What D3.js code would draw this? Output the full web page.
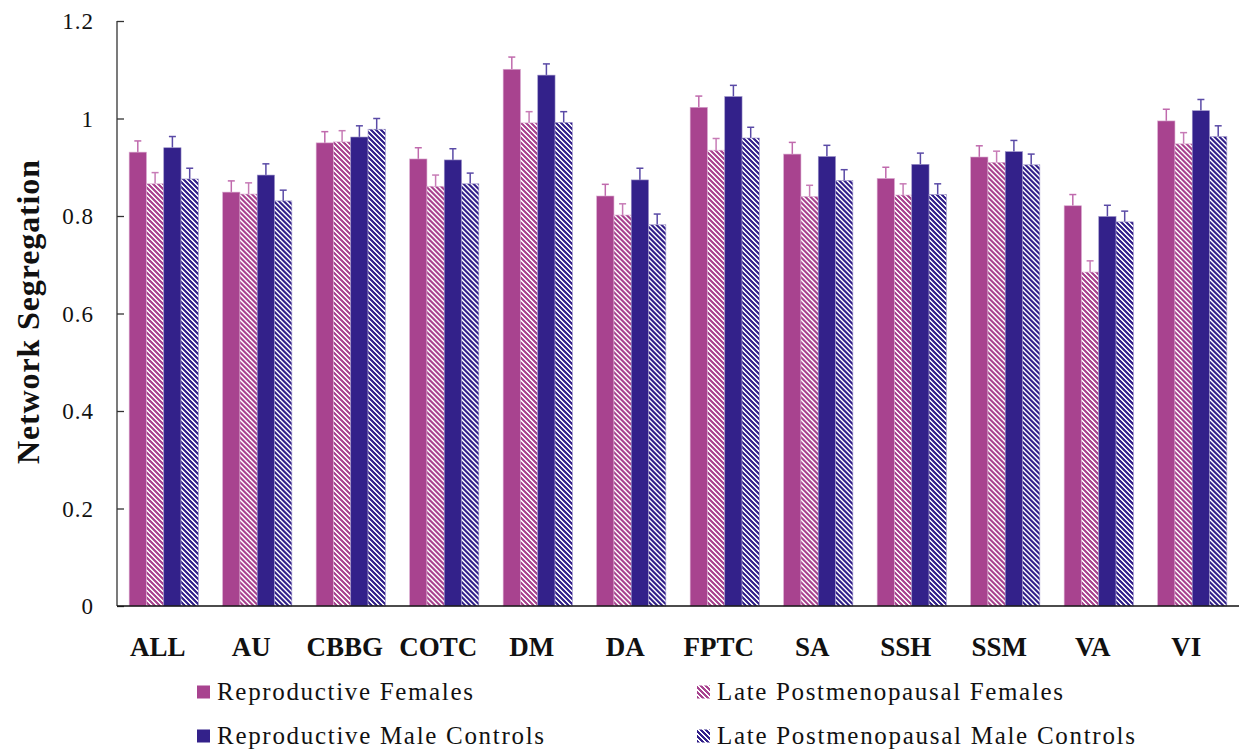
<!DOCTYPE html>
<html>
<head>
<meta charset="utf-8">
<script src="https://cdn.jsdelivr.net/npm/d3@7"></script>
<style>
  body { margin: 0; background: #fff; }
  svg { display: block; font-family: "Liberation Serif", "Times New Roman", serif; }
</style>
</head>
<body>
<svg width="1239" height="751"></svg>
<script>
// values
var categories = ["ALL", "AU", "CBBG", "COTC", "DM", "DA", "FPTC", "SA", "SSH", "SSM", "VA", "VI"];
var seriesNames = ["Reproductive Females", "Late Postmenopausal Females",
                   "Reproductive Male Controls", "Late Postmenopausal Male Controls"];
var repFemales  = [0.931, 0.849, 0.950, 0.917, 1.101, 0.841, 1.023, 0.927, 0.877, 0.921, 0.821, 0.995];
var lateFemales = [0.866, 0.845, 0.952, 0.861, 0.991, 0.802, 0.935, 0.840, 0.843, 0.910, 0.685, 0.948];
var repMales    = [0.940, 0.884, 0.962, 0.915, 1.089, 0.874, 1.045, 0.922, 0.906, 0.932, 0.799, 1.016];
var lateMales   = [0.876, 0.831, 0.978, 0.866, 0.992, 0.782, 0.960, 0.873, 0.844, 0.905, 0.788, 0.963];
var errRepF  = [0.023, 0.023, 0.023, 0.023, 0.025, 0.024, 0.023, 0.024, 0.023, 0.023, 0.023, 0.024];
var errLateF = [0.023, 0.023, 0.023, 0.023, 0.023, 0.023, 0.024, 0.023, 0.023, 0.023, 0.023, 0.023];
var errRepM  = [0.023, 0.023, 0.023, 0.023, 0.023, 0.024, 0.023, 0.023, 0.023, 0.023, 0.023, 0.023];
var errLateM = [0.022, 0.022, 0.022, 0.022, 0.022, 0.022, 0.022, 0.022, 0.022, 0.022, 0.022, 0.022];
var yTicks = [0, 0.2, 0.4, 0.6, 0.8, 1, 1.2];

var values = [repFemales, lateFemales, repMales, lateMales];
var errors = [errRepF, errLateF, errRepM, errLateM];

var magenta = "#a8438f", navy = "#33218a";
var fills = [magenta, "url(#hatchM)", navy, "url(#hatchN)"];
var errColors = ["#c06aad", "#c77bb6", "#5a4aa6", "#5a4aa6"];

var svg = d3.select("svg");

// hatch patterns
var defs = svg.append("defs");
function hatch(id, col) {
  var p = defs.append("pattern")
      .attr("id", id)
      .attr("patternUnits", "userSpaceOnUse")
      .attr("width", 5).attr("height", 5);
  p.append("rect").attr("width", 5).attr("height", 5).attr("fill", "#fff");
  p.append("path")
      .attr("d", "M-1,-1L6,6M4,-1L6,1M-1,4L1,6")
      .attr("stroke", col).attr("stroke-width", 1.9)
      .attr("shape-rendering", "crispEdges");
}
hatch("hatchM", magenta);
hatch("hatchN", navy);

var x0 = d3.scaleBand().domain(categories).range([117, 1239])
    .paddingInner(0.26).paddingOuter(0.13);
var x1 = d3.scaleBand().domain(d3.range(4)).range([0, x0.bandwidth()]);
var y = d3.scaleLinear().domain([0, 1.2]).range([606, 21]);

// bars
var groups = svg.append("g").selectAll("g")
  .data(categories)
  .enter().append("g")
    .attr("transform", function(d) { return "translate(" + x0(d) + ",0)"; });

var bars = groups.selectAll("g.bar")
  .data(function(d, i) {
    return d3.range(4).map(function(s) { return {s: s, v: values[s][i], e: errors[s][i]}; });
  })
  .enter().append("g").attr("class", "bar");

// error bars (upper only)
bars.append("line")
    .attr("x1", function(d) { return x1(d.s) + x1.bandwidth() / 2; })
    .attr("x2", function(d) { return x1(d.s) + x1.bandwidth() / 2; })
    .attr("y1", function(d) { return y(d.v); })
    .attr("y2", function(d) { return y(d.v + d.e); })
    .attr("stroke", function(d) { return errColors[d.s]; })
    .attr("stroke-width", 1.5);
bars.append("line")
    .attr("x1", function(d) { return x1(d.s) + x1.bandwidth() / 2 - 3.5; })
    .attr("x2", function(d) { return x1(d.s) + x1.bandwidth() / 2 + 3.5; })
    .attr("y1", function(d) { return y(d.v + d.e); })
    .attr("y2", function(d) { return y(d.v + d.e); })
    .attr("stroke", function(d) { return errColors[d.s]; })
    .attr("stroke-width", 1.5);

bars.append("rect")
    .attr("x", function(d) { return x1(d.s); })
    .attr("y", function(d) { return y(d.v); })
    .attr("width", x1.bandwidth())
    .attr("height", function(d) { return y(0) - y(d.v); })
    .attr("fill", function(d) { return fills[d.s]; })
    .attr("stroke", function(d) { return d.s < 2 ? "#d9a9cf" : "#9d93c8"; })
    .attr("stroke-width", 0.6);

// y axis
var yAxis = d3.axisRight(y).tickValues(yTicks).tickSize(7).tickFormat("");
var gy = svg.append("g").attr("transform", "translate(117,0)").call(yAxis);
gy.select(".domain").attr("stroke", "#333").attr("stroke-width", 1.3)
    .attr("d", "M0,21V606");
gy.selectAll(".tick line").attr("stroke", "#333").attr("stroke-width", 1.3);

svg.append("g").selectAll("text")
  .data(yTicks)
  .enter().append("text")
    .attr("x", 94)
    .attr("y", function(d) { return y(d); })
    .attr("dy", "0.35em")
    .attr("text-anchor", "end")
    .attr("font-size", 23)
    .attr("letter-spacing", 1)
    .attr("fill", "#111")
    .text(function(d) { return d3.format("")(+d.toFixed(1)); });

// x axis
var xAxis = d3.axisBottom(x0).tickSize(0).tickFormat("");
var gx = svg.append("g").attr("transform", "translate(0,606)").call(xAxis);
gx.select(".domain").attr("stroke", "#111").attr("stroke-width", 1.6)
    .attr("d", "M117,0H1239");

svg.append("g").selectAll("text")
  .data(categories)
  .enter().append("text")
    .attr("x", function(d) { return x0(d) + x0.bandwidth() / 2 - 6; })
    .attr("y", 656)
    .attr("text-anchor", "middle")
    .attr("font-size", 27)
    .attr("font-weight", "bold")
    .attr("fill", "#111")
    .text(function(d) { return d; });

// y title
svg.append("text")
    .attr("transform", "translate(39,312) rotate(-90)")
    .attr("text-anchor", "middle")
    .attr("font-size", 32)
    .attr("font-weight", "bold")
    .attr("fill", "#111")
    .attr("textLength", 304)
    .attr("lengthAdjust", "spacing")
    .text("Network Segregation");

// legend
var legendPos = [[197, 692], [697, 692], [197, 736], [697, 736]];
var legendLen = [256, 346, 327, 418];
var legend = svg.append("g").selectAll("g")
  .data(seriesNames)
  .enter().append("g")
    .attr("transform", function(d, i) { return "translate(" + legendPos[i][0] + "," + legendPos[i][1] + ")"; });
legend.append("rect")
    .attr("x", 0).attr("y", -6.5)
    .attr("width", 13).attr("height", 13)
    .attr("fill", function(d, i) { return fills[i]; });
legend.append("text")
    .attr("x", 20)
    .attr("y", 8)
    .attr("font-size", 25)
    .attr("fill", "#111")
    .attr("textLength", function(d, i) { return legendLen[i]; })
    .attr("lengthAdjust", "spacing")
    .text(function(d) { return d; });
</script>
</body>
</html>
